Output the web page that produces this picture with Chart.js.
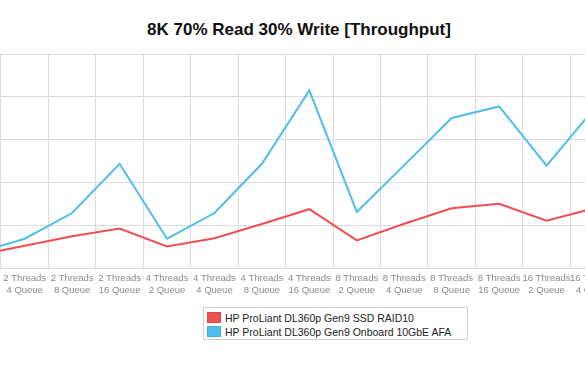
<!DOCTYPE html>
<html>
<head>
<meta charset="utf-8">
<script src="https://cdn.jsdelivr.net/npm/chart.js@4/dist/chart.umd.min.js"></script>
<style>
  body { margin: 0; background: #fff; overflow: hidden; width: 585px; height: 378px; position: relative; font-family: "Liberation Sans", Arial, sans-serif; }
  #title { position: absolute; left: 0; top: 20px; width: 598px; text-align: center; font-weight: bold; font-size: 17px; color: #111; }
  #wrap { position: absolute; left: -48px; top: 0; width: 670px; height: 304px; }
  #legend { position: absolute; left: 203px; top: 307px; width: 260px; border: 1px solid #cfcfcf; padding: 3px 0 0 3px; font-size: 10.5px; color: #222; }
  #legend div { height: 14px; line-height: 14px; white-space: nowrap; }
  #legend span { display: inline-block; width: 12px; height: 9px; margin-right: 4px; vertical-align: -1px; border: 1px solid rgba(0,0,0,0.08); }
</style>
</head>
<body>
<div id="title">8K 70% Read 30% Write [Throughput]</div>
<div id="wrap"><canvas id="chart"></canvas></div>
<div id="legend"></div>
<script>
// categories (threads / queue depth)
const categories = [
    ['2 Threads', '2 Queue'], ['2 Threads', '4 Queue'], ['2 Threads', '8 Queue'], ['2 Threads', '16 Queue'],
    ['4 Threads', '2 Queue'], ['4 Threads', '4 Queue'], ['4 Threads', '8 Queue'], ['4 Threads', '16 Queue'],
    ['8 Threads', '2 Queue'], ['8 Threads', '4 Queue'], ['8 Threads', '8 Queue'], ['8 Threads', '16 Queue'],
    ['16 Threads', '2 Queue'], ['16 Threads', '4 Queue']
];

const seriesNames = ['HP ProLiant DL360p Gen9 SSD RAID10', 'HP ProLiant DL360p Gen9 Onboard 10GbE AFA'];

// throughput values
const ssdRaid10 = [6.0, 10.4, 14.9, 18.5, 10.1, 13.9, 20.6, 27.5, 12.9, 20.7, 27.9, 30.0, 22.1, 27.9];
const onboardAfa = [7.1, 13.7, 25.7, 48.7, 13.7, 25.7, 48.7, 83.0, 26.2, 48.1, 70.1, 75.5, 47.8, 74.4];

const yTicks = [0, 20, 40, 60, 80, 100];

const colors = ['rgb(239, 78, 82)', 'rgb(78, 190, 236)'];

let ctx = document.getElementById('chart').getContext('2d');
let chart = new Chart(ctx, {
    type: 'line',
    data: {
        labels: categories,
        datasets: [{
            label: seriesNames[0],
            data: ssdRaid10,
            borderColor: colors[0],
            backgroundColor: colors[0],
            borderWidth: 2,
            pointRadius: 0,
            tension: 0,
            fill: false
        }, {
            label: seriesNames[1],
            data: onboardAfa,
            borderColor: colors[1],
            backgroundColor: colors[1],
            borderWidth: 2,
            pointRadius: 0,
            tension: 0,
            fill: false
        }]
    },
    options: {
        responsive: true,
        maintainAspectRatio: false,
        animation: false,
        layout: { padding: { top: 54, bottom: 4, left: 0, right: 0 } },
        plugins: {
            legend: { display: false },
            tooltip: { enabled: false }
        },
        scales: {
            x: {
                offset: true,
                grid: { offset: true, color: '#dcdcdc', drawTicks: false },
                border: { color: '#dcdcdc' },
                ticks: {
                    autoSkip: false,
                    maxRotation: 0,
                    minRotation: 0,
                    padding: 4,
                    color: '#8a8a8a',
                    font: { family: '"Liberation Sans", Arial, sans-serif', size: 9.5, lineHeight: 1.26 }
                }
            },
            y: {
                min: yTicks[0],
                max: yTicks[yTicks.length - 1],
                afterBuildTicks: (axis) => { axis.ticks = yTicks.map(v => ({ value: v })); },
                grid: { color: '#dcdcdc', drawTicks: false },
                border: { display: false },
                ticks: { display: false }
            }
        }
    }
});

// html legend in a bordered box
let legend = document.getElementById('legend');
chart.data.datasets.forEach(function (ds) {
    let row = document.createElement('div');
    let sw = document.createElement('span');
    sw.style.backgroundColor = ds.borderColor;
    row.appendChild(sw);
    row.appendChild(document.createTextNode(ds.label));
    legend.appendChild(row);
});
</script>
</body>
</html>
